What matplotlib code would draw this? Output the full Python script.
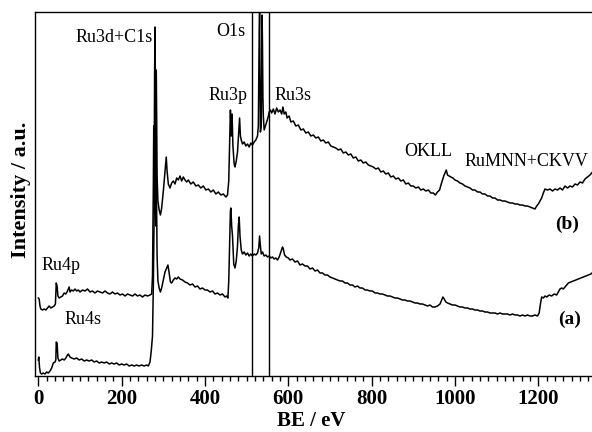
import matplotlib
matplotlib.use("Agg")
import matplotlib.pyplot as plt
from matplotlib.ticker import MultipleLocator

plt.rcParams['font.family'] = ['Liberation Serif', 'DejaVu Serif']

# spectrum (b): binding energy (eV) and intensity (a.u.)
be_b = [
    0, 2, 4, 6, 10, 14, 18, 22, 26, 30,
    34, 38, 41, 43, 45, 47, 50, 54, 58, 62,
    66, 70, 74, 76, 80, 84, 88, 92, 96, 100,
    106, 112, 118, 124, 130, 136, 142, 148, 154, 160,
    166, 172, 178, 184, 190, 196, 202, 208, 214, 220,
    226, 232, 238, 244, 250, 256, 262, 268, 272, 274,
    276, 277, 278, 279, 280, 281, 282, 283, 284, 285,
    287, 290, 293, 296, 300, 304, 307, 309, 312, 316,
    320, 324, 328, 332, 336, 340, 344, 348, 352, 356,
    360, 366, 372, 378, 384, 390, 396, 402, 408, 414,
    420, 426, 432, 438, 444, 450, 454, 457, 459, 461,
    463, 465, 467, 470, 472, 475, 478, 481, 483, 485,
    487, 490, 494, 498, 502, 506, 510, 514, 518, 522,
    526, 528, 529, 530, 531, 532, 533, 534, 535, 536,
    537, 538, 539, 540, 542, 545, 548, 551, 554, 557,
    560, 564, 568, 572, 576, 580, 584, 587, 590, 594,
    597, 602, 606, 612, 618, 624, 630, 636, 642, 648,
    654, 660, 666, 672, 678, 684, 690, 696, 702, 708,
    714, 720, 726, 732, 738, 744, 750, 756, 762, 768,
    774, 780, 786, 792, 798, 804, 810, 816, 822, 828,
    834, 840, 846, 852, 858, 864, 870, 876, 882, 888,
    894, 900, 906, 912, 918, 924, 930, 936, 942, 948,
    953, 958, 963, 967, 970, 973, 976, 979, 982, 986,
    990, 995, 1000, 1006, 1012, 1018, 1024, 1030, 1036, 1042,
    1048, 1054, 1060, 1066, 1072, 1078, 1084, 1090, 1096, 1102,
    1108, 1114, 1120, 1126, 1132, 1138, 1144, 1150, 1156, 1162,
    1168, 1174, 1180, 1186, 1192, 1196, 1200, 1204, 1208, 1212,
    1216, 1222, 1228, 1234, 1240, 1246, 1252, 1258, 1264, 1270,
    1276, 1282, 1288, 1294, 1300, 1306, 1312, 1318, 1324, 1330,
    1336]
int_b = [
    78, 77, 70, 67, 66, 67, 66, 68, 70, 68,
    69, 70, 72, 93, 90, 80, 78, 79, 80, 83,
    82, 85, 89, 84, 86, 85, 87, 85, 86, 84,
    86, 85, 87, 84, 85, 83, 85, 84, 83, 85,
    83, 82, 84, 82, 83, 81, 82, 80, 82, 81,
    80, 82, 80, 81, 79, 81, 80, 81, 82, 100,
    190, 250, 200, 300, 349, 220, 160, 306, 260, 200,
    175, 166, 161, 168, 185, 205, 219, 205, 192, 188,
    193, 195, 192, 198, 196, 200, 195, 199, 196, 194,
    196, 192, 194, 190, 191, 188, 190, 186, 187, 184,
    186, 182, 184, 181, 182, 179, 181, 195, 230, 266,
    240, 262, 230, 212, 209, 215, 224, 245, 258, 240,
    236, 232, 234, 230, 232, 229, 233, 231, 234, 236,
    240, 250, 300, 340, 363, 300, 244, 247, 252, 300,
    361, 330, 279, 260, 246, 250, 254, 258, 264, 266,
    263, 267, 262, 268, 264, 266, 262, 269, 262, 264,
    258, 260, 254, 255, 250, 251, 246, 247, 243, 244,
    240, 241, 238, 239, 235, 236, 233, 234, 230, 229,
    228, 226, 227, 223, 224, 221, 222, 218, 219, 215,
    216, 213, 214, 211, 210, 209, 207, 208, 204, 205,
    202, 203, 199, 200, 197, 198, 195, 196, 192, 193,
    190, 190, 188, 189, 186, 187, 185, 186, 183, 183,
    181, 184, 186, 192, 196, 200, 203, 206, 201, 200,
    199, 198, 196, 195, 193, 192, 190, 189, 188, 186,
    186, 184, 184, 182, 182, 180, 180, 178, 178, 176,
    176, 175, 175, 174, 173, 173, 172, 172, 171, 171,
    170, 170, 169, 168, 167, 170, 172, 175, 178, 183,
    187, 186, 187, 185, 187, 186, 188, 186, 190, 188,
    190, 189, 192, 191, 194, 193, 197, 199, 201, 204,
    206]

# spectrum (a)
be_a = [
    0, 1, 3, 5, 8, 12, 16, 20, 24, 28,
    32, 36, 40, 42, 43, 45, 47, 50, 54, 58,
    62, 66, 70, 72, 76, 80, 86, 92, 98, 104,
    110, 116, 122, 128, 134, 140, 146, 152, 158, 164,
    170, 176, 182, 188, 194, 200, 206, 212, 218, 224,
    230, 236, 242, 248, 254, 260, 264, 268, 271, 274,
    276, 277, 278, 279, 280, 281, 282, 283, 284, 285,
    287, 290, 293, 296, 300, 304, 308, 311, 314, 317,
    320, 324, 328, 332, 336, 340, 346, 352, 358, 364,
    370, 376, 382, 388, 394, 400, 406, 412, 418, 424,
    430, 436, 442, 448, 452, 455, 457, 459, 461, 462,
    464, 466, 469, 472, 475, 478, 480, 482, 484, 487,
    490, 494, 498, 502, 506, 510, 514, 518, 522, 526,
    529, 531, 533, 535, 538, 542, 546, 550, 554, 558,
    562, 566, 570, 574, 578, 582, 586, 588, 591, 595,
    600, 604, 610, 616, 622, 628, 634, 640, 646, 652,
    658, 664, 670, 676, 682, 688, 694, 700, 706, 712,
    718, 724, 730, 736, 742, 748, 754, 760, 766, 772,
    778, 784, 790, 796, 802, 808, 814, 820, 826, 832,
    838, 844, 850, 856, 862, 868, 874, 880, 886, 892,
    898, 904, 910, 916, 922, 928, 934, 940, 946, 952,
    958, 964, 968, 971, 974, 978, 982, 988, 994, 1000,
    1006, 1012, 1018, 1024, 1030, 1036, 1042, 1048, 1054, 1060,
    1066, 1072, 1078, 1084, 1090, 1096, 1102, 1108, 1114, 1120,
    1126, 1132, 1138, 1144, 1150, 1156, 1162, 1168, 1174, 1180,
    1186, 1192, 1198, 1202, 1205, 1208, 1212, 1216, 1220, 1226,
    1232, 1238, 1244, 1248, 1252, 1256, 1260, 1264, 1268, 1272,
    1278, 1284, 1290, 1296, 1302, 1308, 1314, 1320, 1326, 1332,
    1338]
int_a = [
    16, 19, 8, 3, 2, 3, 2, 4, 3, 5,
    8, 13, 14, 16, 34, 33, 18, 15, 16, 17,
    16, 18, 21, 22, 19, 18, 17, 18, 16, 17,
    15, 16, 15, 16, 14, 15, 13, 14, 13, 14,
    12, 13, 12, 13, 11, 12, 11, 12, 10, 11,
    10, 11, 10, 11, 10, 11, 10, 14, 25, 40,
    90, 130, 160, 200, 278, 190, 150, 210, 170, 120,
    95, 88, 84, 88, 96, 104, 108, 111, 103, 94,
    93, 96, 98, 97, 99, 97, 96, 94, 93, 91,
    92, 89, 90, 87, 88, 86, 86, 84, 85, 82,
    83, 81, 82, 79, 80, 78, 95, 130, 165, 168,
    150, 140, 112, 108, 115, 130, 150, 159, 140, 126,
    122, 124, 121, 123, 120, 122, 120, 122, 121, 123,
    128, 140, 130, 122, 124, 120, 121, 119, 120, 118,
    119, 117, 118, 116, 119, 124, 129, 127, 121, 119,
    118, 116, 117, 114, 115, 111, 112, 110, 110, 107,
    108, 105, 106, 103, 103, 101, 101, 99, 98, 97,
    96, 95, 95, 93, 93, 91, 91, 89, 90, 88,
    88, 86, 86, 85, 85, 83, 83, 82, 82, 81,
    80, 80, 79, 78, 78, 77, 76, 76, 75, 75,
    74, 73, 73, 72, 72, 71, 70, 71, 69, 69,
    70, 72, 76, 79, 77, 74, 73, 72, 71, 71,
    70, 69, 69, 68, 68, 67, 67, 66, 66, 65,
    65, 64, 64, 63, 63, 63, 62, 63, 62, 62,
    62, 61, 62, 61, 61, 60, 61, 60, 61, 60,
    60, 61, 60, 63, 72, 79, 78, 80, 79, 81,
    80, 82, 81, 84, 87, 88, 87, 89, 91, 93,
    94, 95, 96, 97, 98, 99, 100, 101, 102, 104,
    105]

# peak labels (text, BE, intensity, ha)
labels = [("Ru3d+C1s", 182, 339, "center"), ("O1s", 463, 345, "center"),
          ("Ru3p", 456, 280, "center"), ("Ru3s", 612, 280, "center"),
          ("OKLL", 936, 224, "center"), ("RuMNN+CKVV", 1024, 215, "left"),
          ("Ru4p", 55, 111, "center"), ("Ru4s", 108, 56, "center")]
o1s_box = (513, 554)

fig = plt.figure(figsize=(5.92, 4.32), dpi=100)
ax = fig.add_axes([35/592, 56/432, 570/592, 364/432])

ax.plot(be_b, int_b, color='black', lw=1.1)
ax.plot(be_a, int_a, color='black', lw=1.1)
for x in o1s_box:
    ax.axvline(x, color='black', lw=1.0)

for txt, x, y, ha in labels:
    ax.text(x, y, txt, ha=ha, va='center', fontsize=13)
ax.text(1270, 152, "(b)", ha='center', va='center', fontsize=14, fontweight='bold')
ax.text(1274, 57, "(a)", ha='center', va='center', fontsize=14, fontweight='bold')

ax.set_xlim(-8, 1360)
ax.set_ylim(0, 364)
ax.xaxis.set_major_locator(MultipleLocator(200))
ax.xaxis.set_minor_locator(MultipleLocator(20))
ax.tick_params(axis='x', which='major', direction='out', length=7, width=1, pad=2,
               labelsize=15)
ax.tick_params(axis='x', which='minor', direction='out', length=3.6, width=1)
for lab in ax.get_xticklabels():
    lab.set_fontweight('bold')
ax.set_yticks([])
ax.spines['right'].set_visible(False)
for s in ['left', 'top', 'bottom']:
    ax.spines[s].set_linewidth(1.0)

fig.text(311/592, 1 - 421/432, "BE / eV", ha='center', va='center',
         fontsize=15, fontweight='bold')
fig.text(21/592, 1 - 190/432, "Intensity / a.u.", ha='center', va='center',
         rotation=90, fontsize=16, fontweight='bold')

fig.savefig("out.png", dpi=100)
